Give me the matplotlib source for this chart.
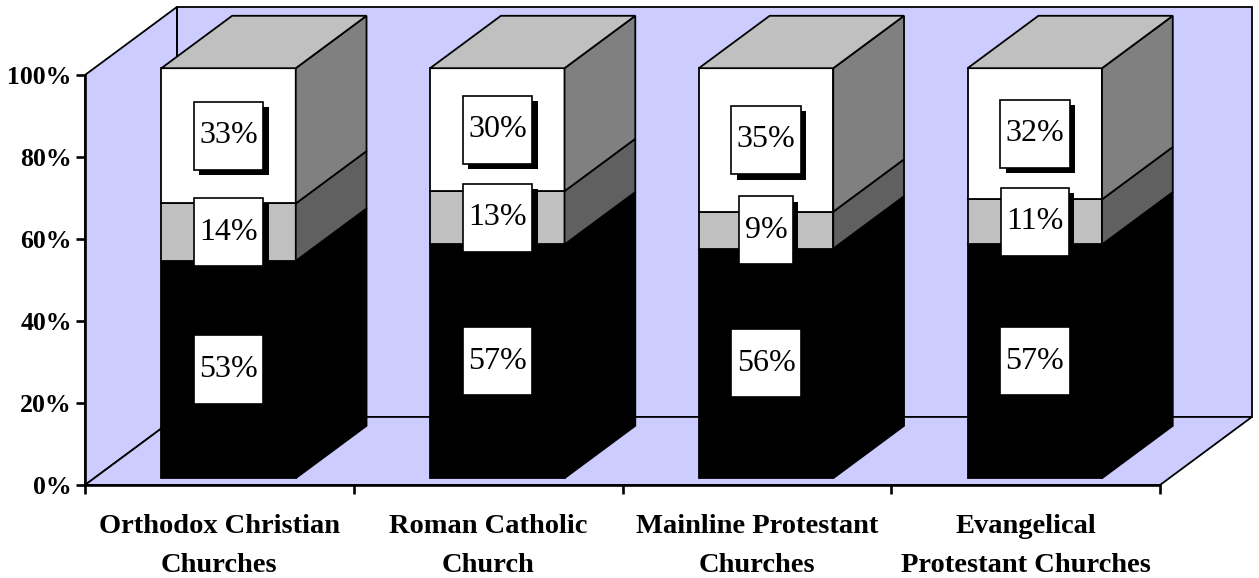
import matplotlib.pyplot as plt
import matplotlib.patheffects as pe
from matplotlib.patches import Polygon, Rectangle
from matplotlib.ticker import FuncFormatter

categories = ["Orthodox Christian\nChurches", "Roman Catholic\nChurch",
              "Mainline Protestant\nChurches", "Evangelical\nProtestant Churches"]
bottom_pct = [53, 57, 56, 57]   # black segment
middle_pct = [14, 13, 9, 11]    # gray segment
top_pct = [33, 30, 35, 32]      # white segment

plt.rcParams['font.family'] = ['Liberation Serif', 'DejaVu Serif']

WALL = '#CCCCFF'
front_colors = ['black', '#C0C0C0', 'white']
side_colors = ['black', '#606060', '#808080']
TOP = '#C0C0C0'

# oblique depth of the floor, in data units (x: categories, y: percent)
DX, DY = 0.342, 16.6
F0, F1 = 0.10, 0.87      # front / back of the bars as fractions of the depth
BAR_W = 0.5
n = len(categories)

fig = plt.figure(figsize=(12.59, 5.78), dpi=100)
ax = fig.add_axes([85 / 1259, 93 / 578, 1075 / 1259, 410 / 578])
ax.set_xlim(0, n)
ax.set_ylim(0, 100)
ax.patch.set_visible(False)

lw = 1.3
# walls and floor
left_wall = [(0, 0), (0, 100), (DX, 100 + DY), (DX, DY)]
back_wall = [(DX, DY), (DX, 100 + DY), (n + DX, 100 + DY), (n + DX, DY)]
floor = [(0, 0), (n, 0), (n + DX, DY), (DX, DY)]
for poly in (back_wall, left_wall, floor):
    ax.add_patch(Polygon(poly, closed=True, fc=WALL, ec='black', lw=lw,
                         clip_on=False, zorder=0.5))

shadow = [pe.SimplePatchShadow(offset=(4, -4), shadow_rgbFace='black', alpha=1),
          pe.Normal()]

dd = F1 - F0
for i in range(n):
    x0 = i + (1 - BAR_W) / 2 + F0 * DX
    base = F0 * DY
    segs = [bottom_pct[i], middle_pct[i], top_pct[i]]
    b = 0
    for k, h in enumerate(segs):
        y0 = base + b
        ax.add_patch(Rectangle((x0, y0), BAR_W, h, fc=front_colors[k],
                               ec='black', lw=lw, clip_on=False, zorder=2))
        side = [(x0 + BAR_W, y0), (x0 + BAR_W + dd * DX, y0 + dd * DY),
                (x0 + BAR_W + dd * DX, y0 + h + dd * DY), (x0 + BAR_W, y0 + h)]
        ax.add_patch(Polygon(side, closed=True, fc=side_colors[k], ec='black',
                             lw=lw, clip_on=False, zorder=2))
        b += h
    ytop = base + b
    top = [(x0, ytop), (x0 + BAR_W, ytop), (x0 + BAR_W + dd * DX, ytop + dd * DY),
           (x0 + dd * DX, ytop + dd * DY)]
    ax.add_patch(Polygon(top, closed=True, fc=TOP, ec='black', lw=lw,
                         clip_on=False, zorder=2))

    # value labels in boxes with a drop shadow
    b = 0
    for k, h in enumerate(segs):
        cx = x0 + BAR_W / 2
        cy = base + b + h / 2
        t = ax.text(cx, cy, f"{h}%", ha='center', va='center', fontsize=23,
                    color='black', zorder=4, clip_on=False,
                    bbox=dict(boxstyle='square,pad=0.17', mutation_aspect=3.6,
                              fc='white', ec='black', lw=1.2))
        t._bbox_patch.set_path_effects(shadow)
        b += h

# axes: only the front-left edge and the floor front edge
for s in ('top', 'right'):
    ax.spines[s].set_visible(False)
for s in ('left', 'bottom'):
    ax.spines[s].set_linewidth(1.9)
    ax.spines[s].set_zorder(5)

ax.set_yticks(range(0, 101, 20))
ax.yaxis.set_major_formatter(FuncFormatter(lambda v, p: f"{v:.0f}%"))
ax.tick_params(axis='y', length=6.5, width=1.9, pad=3, labelsize=18.5)
for t in ax.get_yticklabels():
    t.set_fontweight('bold')

ax.set_xticks(range(n + 1))
ax.set_xticklabels([])
ax.tick_params(axis='x', which='major', length=6.5, width=1.9)
ax.set_xticks([i + 0.5 for i in range(n)], categories, minor=True)
ax.tick_params(axis='x', which='minor', length=0, pad=21, labelsize=20.5)
for t in ax.get_xticklabels(minor=True):
    t.set_fontweight('bold')
    t.set_linespacing(1.75)

fig.savefig('out.png', dpi=100)
